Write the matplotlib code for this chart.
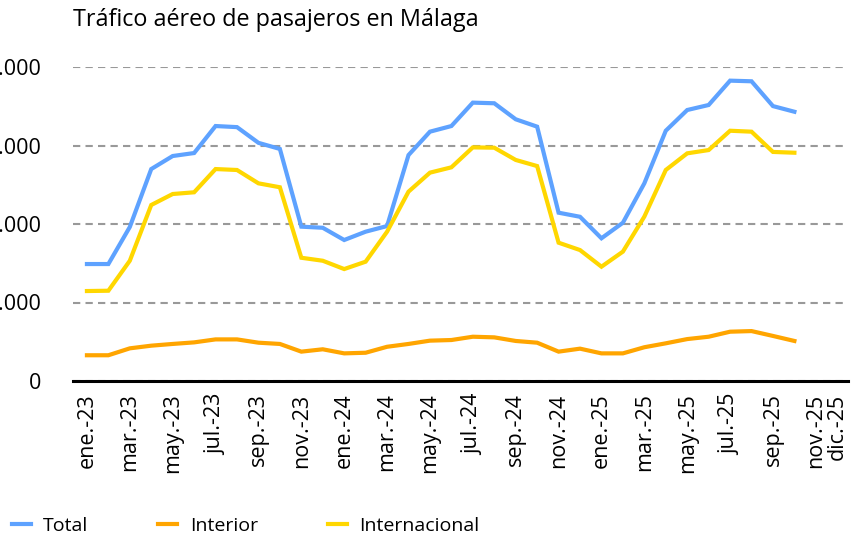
import matplotlib
matplotlib.use("Agg")
import matplotlib.pyplot as plt
from matplotlib.ticker import FuncFormatter

plt.rcParams['font.family'] = ['Open Sans', 'DejaVu Sans']

# monthly passengers, ene.-23 .. oct.-25
meses = ["ene.-23", "feb.-23", "mar.-23", "abr.-23", "may.-23", "jun.-23", "jul.-23", "ago.-23",
         "sep.-23", "oct.-23", "nov.-23", "dic.-23", "ene.-24", "feb.-24", "mar.-24", "abr.-24",
         "may.-24", "jun.-24", "jul.-24", "ago.-24", "sep.-24", "oct.-24", "nov.-24", "dic.-24",
         "ene.-25", "feb.-25", "mar.-25", "abr.-25", "may.-25", "jun.-25", "jul.-25", "ago.-25",
         "sep.-25", "oct.-25", "nov.-25", "dic.-25"]

total = [745000, 745000, 981000, 1350000, 1433000, 1452000, 1624000, 1617000, 1517000, 1478000,
         983000, 976000, 898000, 951000, 987000, 1439000, 1588000, 1624000, 1773000, 1769000,
         1667000, 1620000, 1072000, 1046000, 909000, 1008000, 1259000, 1594000, 1726000, 1758000,
         1913000, 1909000, 1751000, 1715000]
interior = [164000, 164000, 208000, 225000, 236000, 246000, 265000, 265000, 244000, 236000,
            187000, 202000, 176000, 180000, 218000, 236000, 257000, 261000, 282000, 278000,
            255000, 244000, 187000, 206000, 176000, 176000, 215000, 240000, 267000, 282000,
            314000, 318000, 287000, 255000]
internacional = [573000, 575000, 766000, 1121000, 1191000, 1202000, 1350000, 1344000, 1259000, 1234000,
                 785000, 766000, 713000, 760000, 951000, 1206000, 1327000, 1361000, 1488000, 1486000,
                 1408000, 1369000, 881000, 834000, 728000, 824000, 1047000, 1344000, 1450000, 1471000,
                 1594000, 1588000, 1459000, 1454000]

fig = plt.figure(figsize=(8.53, 5.41), dpi=100)
ax = fig.add_axes([73/853, 1-381/541, (848-73)/853, (381-67)/541])

x = list(range(len(total)))
ax.plot(x, total, color="#5EA2FF", lw=3, label="Total", solid_joinstyle="miter", zorder=3)
ax.plot(x, interior, color="#FFA500", lw=3, label="Interior", solid_joinstyle="miter", zorder=3)
ax.plot(x, internacional, color="#FFD700", lw=3, label="Internacional", solid_joinstyle="miter", zorder=3)

ax.set_xlim(-0.65, 35.5)
ax.set_ylim(0, 2000000)
ax.set_yticks([0, 500000, 1000000, 1500000, 2000000])
ax.yaxis.set_major_formatter(FuncFormatter(lambda v, p: "0" if v == 0 else "{:,.0f}".format(v).replace(",", ".")))
ax.yaxis.grid(True, color="#999999", lw=1.5, ls=(0, (3.5, 2.5)))
ax.set_axisbelow(True)

ticks = list(range(0, 36, 2)) + [35]
ax.set_xticks(ticks)
ax.set_xticklabels([meses[i] for i in ticks], rotation=90, fontsize=15.5)
ax.tick_params(axis="x", length=0, pad=9)
ax.tick_params(axis="y", length=0, pad=23, labelsize=15.5)

for s in ["top", "right", "left"]:
    ax.spines[s].set_visible(False)
ax.spines["bottom"].set_linewidth(2.2)
ax.spines["bottom"].set_color("black")
ax.spines["bottom"].set_zorder(4)

fig.text(73/853, 1-20/541, "Tráfico aéreo de pasajeros en Málaga", fontsize=16.8, va="center", ha="left")

fig.legend(loc="center left", bbox_to_anchor=(0.0045, 1-526/541), ncol=3, frameon=False,
           fontsize=14, handlelength=0.98, handletextpad=0.64, columnspacing=3.6, borderaxespad=0)

fig.savefig("out.png", dpi=100)
